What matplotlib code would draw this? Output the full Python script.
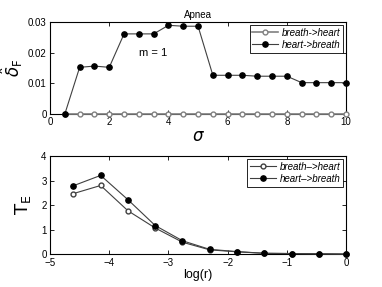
import matplotlib
matplotlib.use("Agg")
import matplotlib.pyplot as plt

sigma = [0.5, 1, 1.5, 2, 2.5, 3, 3.5, 4, 4.5, 5, 5.5, 6, 6.5, 7, 7.5, 8, 8.5, 9, 9.5, 10]
delta_b2h = [0] * 20
delta_h2b = [0, 0.0152, 0.0156, 0.0152, 0.0261, 0.0261, 0.0261, 0.0289, 0.0286, 0.0286,
             0.0126, 0.0126, 0.0126, 0.0123, 0.0123, 0.0123, 0.0102, 0.0102, 0.0102, 0.0102]

logr = [-4.605, -4.145, -3.684, -3.224, -2.763, -2.303, -1.842, -1.382, -0.921, -0.461, 0.0]
te_b2h = [2.47, 2.80, 1.77, 1.07, 0.49, 0.18, 0.10, 0.04, 0.03, 0.02, 0.01]
te_h2b = [2.79, 3.21, 2.22, 1.17, 0.55, 0.20, 0.11, 0.04, 0.03, 0.02, 0.01]

labels = ["breath->heart", "heart->breath"]
labels2 = ["breath\u2013>heart", "heart\u2013>breath"]

plt.rcParams["font.family"] = ["Liberation Sans", "DejaVu Sans"]
plt.rcParams["mathtext.fontset"] = "dejavusans"

fig = plt.figure(figsize=(3.82, 2.87), dpi=100)
ax1 = fig.add_axes([0.131, 0.603, 0.775, 0.3206])
ax2 = fig.add_axes([0.131, 0.114, 0.775, 0.3425])

for ax in (ax1, ax2):
    ax.tick_params(direction="in", top=True, right=True, labelsize=7, length=3, width=0.6)
    ax.tick_params(axis="x", pad=2.5)
    ax.tick_params(axis="y", pad=2.5)
    for s in ax.spines.values():
        s.set_linewidth(0.8)

ax1.plot(sigma, delta_b2h, color="#808080", marker="o", markerfacecolor="white",
         markeredgecolor="#808080", markersize=3.5, linewidth=1.2, label=labels[0], clip_on=False, zorder=3)
ax1.plot(sigma, delta_h2b, color="#404040", marker="o", markerfacecolor="black",
         markeredgecolor="black", markersize=3.8, linewidth=0.8, label=labels[1], clip_on=False, zorder=4)
ax1.set_xlim(0, 10)
ax1.set_ylim(0, 0.03)
ax1.set_xticks([0, 2, 4, 6, 8, 10])
ax1.set_yticks([0, 0.01, 0.02, 0.03])
ax1.set_yticklabels(["0", "0.01", "0.02", "0.03"])
ax1.set_title("Apnea", fontsize=7, pad=3)
ax1.set_xlabel(r"$\sigma$", fontsize=12, labelpad=1)
ax1.set_ylabel(r"$\hat{\delta}_\mathrm{F}$", fontsize=12, labelpad=2)
ax1.text(3.0, 0.02, "m = 1", fontsize=8, va="center", ha="left")
leg1 = ax1.legend(loc="upper right", prop={"style": "italic", "size": 7},
                  fancybox=False, edgecolor="black", framealpha=1, handlelength=2.6,
                  borderpad=0.3, labelspacing=0.2, handletextpad=0.4, borderaxespad=0.3)
leg1.get_frame().set_linewidth(0.6)

ax2.plot(logr, te_b2h, color="#404040", marker="o", markerfacecolor="white",
         markeredgecolor="#404040", markersize=3.5, linewidth=0.8, label=labels2[0], clip_on=False, zorder=3)
ax2.plot(logr, te_h2b, color="#404040", marker="o", markerfacecolor="black",
         markeredgecolor="black", markersize=3.8, linewidth=0.8, label=labels2[1], clip_on=False, zorder=4)
ax2.set_xlim(-5, 0)
ax2.set_ylim(0, 4)
ax2.set_xticks([-5, -4, -3, -2, -1, 0])
ax2.set_yticks([0, 1, 2, 3, 4])
ax2.set_xlabel("log(r)", fontsize=9, labelpad=1)
ax2.set_ylabel(r"$\mathrm{T}_\mathrm{E}$", fontsize=13, labelpad=6)
leg2 = ax2.legend(loc="upper right", prop={"style": "italic", "size": 7},
                  fancybox=False, edgecolor="black", framealpha=1, handlelength=2.6,
                  borderpad=0.3, labelspacing=0.2, handletextpad=0.4, borderaxespad=0.3)
leg2.get_frame().set_linewidth(0.6)

fig.savefig("out.png", dpi=100)
